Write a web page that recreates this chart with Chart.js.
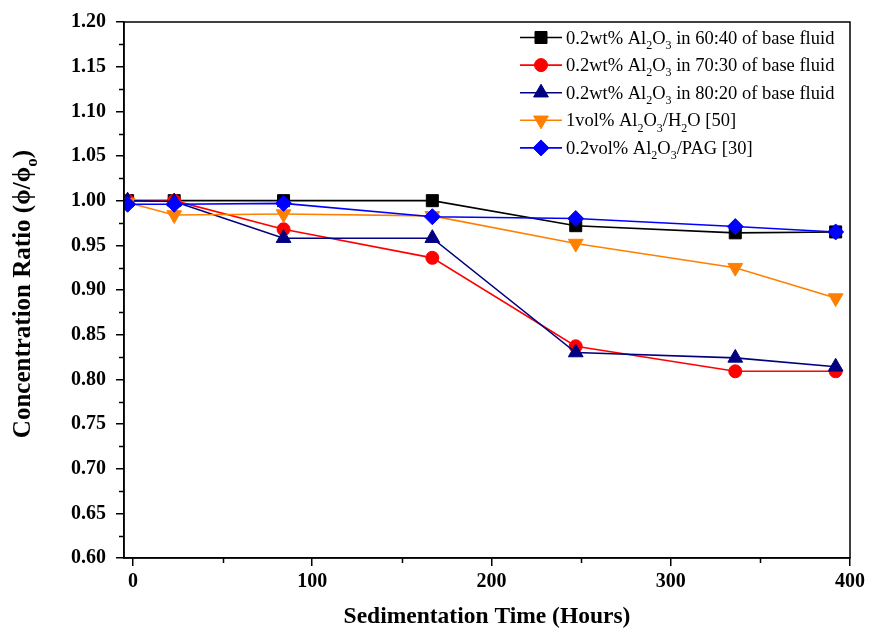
<!DOCTYPE html>
<html>
<head>
<meta charset="utf-8">
<script src="https://cdn.jsdelivr.net/npm/chart.js@4/dist/chart.umd.min.js"></script>
<style>
  html, body { margin: 0; padding: 0; background: #fff; }
  canvas { display: block; }
</style>
</head>
<body>
<canvas id="c" width="869" height="633"></canvas>
<script>
// ---- data ----
const times = [-3, 23, 84, 167, 247, 336, 392];
const series6040 = [1.000, 1.000, 1.000, 1.000, 0.972, 0.964, 0.965];
const series7030 = [1.000, 1.000, 0.968, 0.936, 0.837, 0.809, 0.809];
const series8020 = [1.000, 0.999, 0.958, 0.958, 0.830, 0.824, 0.814];
const seriesH2O  = [0.998, 0.984, 0.985, 0.983, 0.952, 0.925, 0.891];
const seriesPAG  = [0.996, 0.996, 0.997, 0.982, 0.980, 0.971, 0.965];
const seriesLabels = [
  '0.2wt% Al_2O_3 in 60:40 of base fluid',
  '0.2wt% Al_2O_3 in 70:30 of base fluid',
  '0.2wt% Al_2O_3 in 80:20 of base fluid',
  '1vol% Al_2O_3/H_2O [50]',
  '0.2vol% Al_2O_3/PAG [30]'
];
const xTitle = 'Sedimentation Time (Hours)';
const yTitle = 'Concentration Ratio (\u03D5/\u03D5_o)';
const xTicks = [0, 100, 200, 300, 400];
const yTicks = [0.60, 0.65, 0.70, 0.75, 0.80, 0.85, 0.90, 0.95, 1.00, 1.05, 1.10, 1.15, 1.20];
const xMinorTicks = [50, 150, 250, 350];
const yMinorTicks = [0.625, 0.675, 0.725, 0.775, 0.825, 0.875, 0.925, 0.975, 1.025, 1.075, 1.125, 1.175];

const SERIF = '"Liberation Serif", "Times New Roman", "DejaVu Serif", serif';

function pts(vals) { return vals.map((v, i) => ({ x: times[i], y: v })); }

const styles = [
  { color: '#000000', pointStyle: 'rect', radius: 8.5, rotation: 0 },
  { color: '#FF0000', pointStyle: 'circle', radius: 6.5, rotation: 0 },
  { color: '#000080', pointStyle: 'triangle', radius: 8.5, rotation: 0 },
  { color: '#FF8000', pointStyle: 'triangle', radius: 8.5, rotation: 180 },
  { color: '#0000FF', pointStyle: 'rectRot', radius: 8, rotation: 0 }
];
const allSeries = [series6040, series7030, series8020, seriesH2O, seriesPAG];

const datasets = allSeries.map((vals, i) => ({
  label: seriesLabels[i],
  data: pts(vals),
  borderColor: styles[i].color,
  backgroundColor: styles[i].color,
  pointBackgroundColor: styles[i].color,
  pointBorderColor: styles[i].color,
  pointStyle: styles[i].pointStyle,
  pointRadius: styles[i].radius,
  pointHoverRadius: styles[i].radius,
  pointRotation: styles[i].rotation,
  pointBorderWidth: 1,
  borderWidth: 1.6,
  tension: 0,
  fill: false,
  order: allSeries.length - i
}));

function drawRich(ctx, text, x, y, size, weight) {
  const parts = text.split(/(_.)/).filter(p => p.length);
  let cx = x;
  for (const p of parts) {
    if (p[0] === '_' && p.length === 2) {
      ctx.font = weight + ' ' + Math.round(size * 0.66) + 'px ' + SERIF;
      ctx.fillText(p[1], cx, y + size * 0.28);
      cx += ctx.measureText(p[1]).width;
    } else {
      ctx.font = weight + ' ' + size + 'px ' + SERIF;
      ctx.fillText(p, cx, y);
      cx += ctx.measureText(p).width;
    }
  }
  return cx - x;
}
function measureRich(ctx, text, size, weight) {
  const parts = text.split(/(_.)/).filter(p => p.length);
  let w = 0;
  for (const p of parts) {
    if (p[0] === '_' && p.length === 2) {
      ctx.font = weight + ' ' + Math.round(size * 0.66) + 'px ' + SERIF;
      w += ctx.measureText(p[1]).width;
    } else {
      ctx.font = weight + ' ' + size + 'px ' + SERIF;
      w += ctx.measureText(p).width;
    }
  }
  return w;
}

const framePlugin = {
  id: 'frame',
  afterDraw(chart) {
    const ctx = chart.ctx;
    const { left, right, top, bottom } = chart.chartArea;
    const xs = chart.scales.x, ys = chart.scales.y;
    ctx.save();
    ctx.strokeStyle = '#000';
    ctx.lineWidth = 1.5;
    ctx.strokeRect(left, top, right - left, bottom - top);
    ctx.beginPath();
    for (const v of yMinorTicks) {
      const p = Math.round(ys.getPixelForValue(v)) + 0.5;
      ctx.moveTo(left - 5, p); ctx.lineTo(left, p);
    }
    for (const v of xMinorTicks) {
      const p = Math.round(xs.getPixelForValue(v)) + 0.5;
      ctx.moveTo(p, bottom); ctx.lineTo(p, bottom + 5);
    }
    ctx.stroke();

    // legend
    ctx.textBaseline = 'alphabetic';
    ctx.textAlign = 'left';
    const lx0 = 520, lx1 = 562, mx = 541, tx = 566, y0 = 37.5, dy = 27.6, fs = 18.5;
    chart.data.datasets.forEach((ds, i) => {
      const y = y0 + i * dy;
      ctx.strokeStyle = ds.borderColor;
      ctx.fillStyle = ds.borderColor;
      ctx.lineWidth = 1.6;
      ctx.beginPath(); ctx.moveTo(lx0, y); ctx.lineTo(lx1, y); ctx.stroke();
      ctx.lineWidth = 1;
      Chart.helpers.drawPoint(ctx, {
        pointStyle: ds.pointStyle, rotation: ds.pointRotation,
        radius: ds.pointRadius, borderWidth: 1
      }, mx, y);
      ctx.fillStyle = '#000';
      drawRich(ctx, ds.label, tx, y + fs * 0.33, fs, 'normal');
    });

    // y-axis title
    const yfs = 25;
    ctx.save();
    ctx.translate(30, (top + bottom) / 2 + 4);
    ctx.rotate(-Math.PI / 2);
    ctx.fillStyle = '#000';
    const w = measureRich(ctx, yTitle, yfs, 'bold');
    drawRich(ctx, yTitle, -w / 2, 0, yfs, 'bold');
    ctx.restore();
    ctx.restore();
  }
};

new Chart(document.getElementById('c'), {
  type: 'line',
  data: { datasets },
  options: {
    responsive: false,
    animation: false,
    events: [],
    layout: { padding: { top: 19, right: 17, left: 0, bottom: 0 } },
    plugins: { legend: { display: false }, tooltip: { enabled: false } },
    scales: {
      x: {
        type: 'linear',
        min: -5, max: 400,
        afterFit(s) { s.height = 75; },
        afterBuildTicks(s) { s.ticks = xTicks.map(v => ({ value: v })); },
        ticks: {
          autoSkip: false, maxRotation: 0,
          color: '#000', padding: 4,
          font: { family: SERIF, size: 20, weight: 'bold' },
          callback: (v) => String(v)
        },
        grid: { display: true, drawOnChartArea: false, drawTicks: true, tickLength: 8, color: '#000', lineWidth: 1.5 },
        border: { display: true, color: '#000', width: 1.5 },
        title: {
          display: true, text: xTitle, color: '#000',
          font: { family: SERIF, size: 23.5, weight: 'bold' },
          padding: { top: 0, bottom: 2 }
        }
      },
      y: {
        type: 'linear',
        min: 0.6, max: 1.2,
        afterFit(s) { s.width = 124; },
        afterBuildTicks(s) { s.ticks = yTicks.map(v => ({ value: v })); },
        ticks: {
          autoSkip: false, color: '#000', padding: 10,
          font: { family: SERIF, size: 20, weight: 'bold' },
          callback: (v) => Number(v).toFixed(2)
        },
        grid: { display: true, drawOnChartArea: false, drawTicks: true, tickLength: 8, color: '#000', lineWidth: 1.5 },
        border: { display: true, color: '#000', width: 1.5 }
      }
    }
  },
  plugins: [framePlugin]
});
</script>
</body>
</html>
